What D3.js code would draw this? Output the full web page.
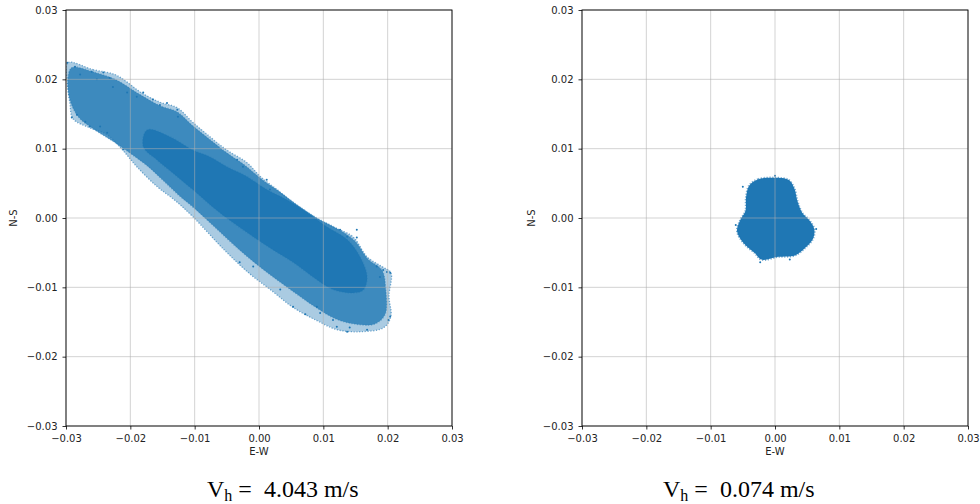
<!DOCTYPE html>
<html><head><meta charset="utf-8">
<script src="https://cdn.jsdelivr.net/npm/d3@7"></script>
<style>body{margin:0;background:#fff} svg{display:block}</style>
</head><body>
<svg id="c" width="980" height="504"></svg>
<script>
// ---- data ----
const tickValues = [-0.03,-0.02,-0.01,0,0.01,0.02,0.03];
const tickLabels = ["\u22120.03","\u22120.02","\u22120.01","0.00","0.01","0.02","0.03"];
const xLabel = "E-W", yLabel = "N-S";
const captions = [{v:"4.043"},{v:"0.074"}];

// left panel: outermost extent of the scattered samples [E-W, N-S]
const leftOuter = [[-0.0297,0.0224],[-0.0258,0.0214],[-0.0224,0.0207],[-0.0205,0.0196],[-0.0185,0.0182],[-0.0154,0.0167],[-0.0127,0.0159],[-0.0103,0.0138],[-0.0076,0.0117],[-0.0050,0.0098],[-0.0019,0.0080],[0.0002,0.0060],[0.0028,0.0041],[0.0053,0.0022],[0.0084,0.0002],[0.0115,-0.0013],[0.0146,-0.0027],[0.0168,-0.0056],[0.0191,-0.0070],[0.0205,-0.0079],[0.0202,-0.0113],[0.0205,-0.0142],[0.0194,-0.0158],[0.0157,-0.0164],[0.0121,-0.0161],[0.0090,-0.0148],[0.0053,-0.0129],[0.0020,-0.0105],[-0.0015,-0.0080],[-0.0053,-0.0047],[-0.0103,0.0002],[-0.0130,0.0025],[-0.0158,0.0045],[-0.0190,0.0074],[-0.0211,0.0097],[-0.0236,0.0120],[-0.0263,0.0130],[-0.0289,0.0143],[-0.0294,0.0166],[-0.0298,0.0195]];
// left panel: fairly dense part of the cloud
const leftMid = [[-0.0291,0.0217],[-0.0255,0.0210],[-0.0224,0.0200],[-0.0185,0.0178],[-0.0154,0.0162],[-0.0127,0.0153],[-0.0103,0.0133],[-0.0076,0.0113],[-0.0050,0.0094],[-0.0019,0.0074],[0.0005,0.0055],[0.0033,0.0037],[0.0059,0.0019],[0.0090,0.0000],[0.0121,-0.0015],[0.0149,-0.0033],[0.0169,-0.0059],[0.0191,-0.0075],[0.0197,-0.0103],[0.0196,-0.0139],[0.0180,-0.0153],[0.0149,-0.0153],[0.0118,-0.0145],[0.0087,-0.0128],[0.0053,-0.0106],[0.0022,-0.0085],[-0.0010,-0.0062],[-0.0040,-0.0038],[-0.0070,-0.0012],[-0.0098,0.0012],[-0.0125,0.0033],[-0.0150,0.0055],[-0.0172,0.0074],[-0.0198,0.0092],[-0.0224,0.0109],[-0.0255,0.0127],[-0.0281,0.0146],[-0.0294,0.0171],[-0.0297,0.0199]];
// left panel: solid core
const leftCore = [[-0.0174,0.0127],[-0.0138,0.0117],[-0.0103,0.0098],[-0.0076,0.0088],[-0.0050,0.0074],[-0.0019,0.0060],[0.0012,0.0041],[0.0044,0.0026],[0.0075,0.0008],[0.0106,-0.0013],[0.0137,-0.0031],[0.0157,-0.0056],[0.0168,-0.0085],[0.0162,-0.0104],[0.0146,-0.0108],[0.0115,-0.0103],[0.0084,-0.0085],[0.0053,-0.0064],[0.0022,-0.0046],[-0.0009,-0.0027],[-0.0040,-0.0007],[-0.0072,0.0016],[-0.0103,0.0041],[-0.0134,0.0065],[-0.0159,0.0084],[-0.0180,0.0103]];
// left panel: scattered outlying samples
const leftStray = [[-0.0298,0.0224],[-0.0286,0.0218],[-0.0278,0.0207],[-0.0260,0.0211],[-0.0252,0.0200],[-0.0242,0.0210],[-0.0232,0.0202],[-0.0227,0.0189],[-0.0291,0.0145],[-0.0283,0.0149],[-0.0263,0.0132],[-0.0270,0.0139],[-0.0205,0.0181],[-0.0190,0.0175],[-0.0180,0.0181],[-0.0165,0.0171],[-0.0154,0.0163],[-0.0143,0.0166],[-0.0127,0.0156],[-0.0126,0.0146],[-0.0211,0.0099],[-0.0236,0.0123],[-0.0247,0.0132],[0.0152,-0.0017],[0.0126,-0.0017],[0.0183,-0.0070],[0.0204,-0.0079],[0.0188,-0.0085],[0.0201,-0.0147],[0.0204,-0.0142],[0.0168,-0.0161],[0.0141,-0.0158],[0.0121,-0.0157],[0.0115,-0.0147],[0.0095,-0.0137],[0.0137,-0.0164],[0.0090,-0.0128],[-0.0030,-0.0064],[-0.0009,-0.0070],[0.0033,-0.0103],[0.0053,-0.0128],[0.0072,-0.0139],[-0.0034,0.0084],[-0.0025,0.0074],[0.0012,0.0055],[0.0017,0.0041],[0.0137,-0.0027],[0.0152,-0.0028],[0.0199,-0.0078],[0.0193,-0.0075]];
// right panel: outline of the cloud
const rightOuter = [[-0.0040,0.0047],[-0.0026,0.0056],[0.0000,0.0058],[0.0021,0.0055],[0.0030,0.0043],[0.0035,0.0024],[0.0042,0.0008],[0.0054,-0.0004],[0.0061,-0.0016],[0.0059,-0.0030],[0.0047,-0.0043],[0.0031,-0.0054],[0.0005,-0.0056],[-0.0021,-0.0060],[-0.0031,-0.0051],[-0.0049,-0.0036],[-0.0059,-0.0019],[-0.0054,-0.0003],[-0.0046,0.0010],[-0.0045,0.0030]];
const rightStray = [[-0.0050,0.0045],[-0.0061,-0.0010],[-0.0023,-0.0064],[0.0023,-0.0060],[0.0064,-0.0016],[0.0000,0.0061]];

// ---- drawing ----
const svg = d3.select("#c");
const color = "#1f77b4";
const font = "'DejaVu Sans', sans-serif";
const panels = [
  {left:66, layers:[[leftOuter,0.38],[leftMid,0.78],[leftCore,1]], stray:leftStray, cap:captions[0], capX:207, labX:13.5},
  {left:582, layers:[[rightOuter,1]], stray:rightStray, cap:captions[1], capX:663, labX:531}
];
const pw = 386, pTop = 10, ph = 416;

panels.forEach((p, pi) => {
  const x = d3.scaleLinear().domain([-0.03,0.03]).range([p.left, p.left+pw]);
  const y = d3.scaleLinear().domain([-0.03,0.03]).range([pTop+ph, pTop]);
  const g = svg.append("g");
  const clipId = "clip"+pi;
  svg.append("clipPath").attr("id", clipId).append("rect")
    .attr("x", p.left).attr("y", pTop).attr("width", pw).attr("height", ph);
  const plot = g.append("g").attr("clip-path", `url(#${clipId})`);
  const line = d3.line().x(d=>x(d[0])).y(d=>y(d[1])).curve(d3.curveCatmullRomClosed.alpha(0.5));

  p.layers.forEach(([pts, op], li) => {
    plot.append("path").attr("d", line(pts))
      .attr("fill", color).attr("fill-opacity", op)
      .attr("stroke", color).attr("stroke-opacity", li === 0 ? 0.6 : 0.45)
      .attr("stroke-width", p.layers.length === 1 ? 2.2 : 1.3)
      .attr("stroke-dasharray", "1.2 1.6");
  });
  plot.selectAll("circle.s").data(p.stray).join("circle")
    .attr("cx", d=>x(d[0])).attr("cy", d=>y(d[1])).attr("r", 1).attr("fill", color);

  // grid (drawn above the scatter as in the reference)
  const grid = g.append("g").attr("stroke", "#b0b0b0").attr("stroke-opacity", 0.7).attr("stroke-width", 0.8);
  tickValues.forEach(t => {
    grid.append("line").attr("x1", x(t)).attr("x2", x(t)).attr("y1", pTop).attr("y2", pTop+ph);
    grid.append("line").attr("y1", y(t)).attr("y2", y(t)).attr("x1", p.left).attr("x2", p.left+pw);
  });

  // axes
  const ax = d3.axisBottom(x).tickValues(tickValues).tickFormat((d,i)=>tickLabels[i])
    .tickSizeInner(3.5).tickSizeOuter(0).tickPadding(5);
  const ay = d3.axisLeft(y).tickValues(tickValues).tickFormat((d,i)=>tickLabels[i])
    .tickSizeInner(3.5).tickSizeOuter(0).tickPadding(5);
  const gx = g.append("g").attr("transform", `translate(0,${pTop+ph})`).call(ax);
  const gy = g.append("g").attr("transform", `translate(${p.left},0)`).call(ay);
  [gx, gy].forEach(a => {
    a.select(".domain").remove();
    a.selectAll("line").attr("stroke", "#000").attr("stroke-width", 0.8);
    a.selectAll("text").attr("font-family", font).attr("font-size", 10).attr("fill", "#222");
  });
  g.append("rect").attr("x", p.left).attr("y", pTop).attr("width", pw).attr("height", ph)
    .attr("fill", "none").attr("stroke", "#000").attr("stroke-width", 0.9);

  // axis labels
  g.append("text").attr("x", p.left+pw/2).attr("y", 455).attr("text-anchor", "middle")
    .attr("font-family", font).attr("font-size", 10).attr("fill", "#222").text(xLabel);
  g.append("text").attr("transform", `translate(${p.labX},${pTop+ph/2}) rotate(-90)`)
    .attr("text-anchor", "middle").attr("dy", "0.35em")
    .attr("font-family", font).attr("font-size", 10).attr("fill", "#222").text(yLabel);

  // caption
  const c = g.append("text").attr("x", p.capX).attr("y", 497)
    .attr("font-family", "'Liberation Serif', 'Times New Roman', serif").attr("font-size", 24)
    .attr("fill", "#000").style("white-space", "pre");
  c.append("tspan").text("V");
  c.append("tspan").attr("font-size", 16).attr("dy", 4).text("h");
  c.append("tspan").attr("dy", -4).text(" =  " + p.cap.v + " m/s");
});
</script>
</body></html>
